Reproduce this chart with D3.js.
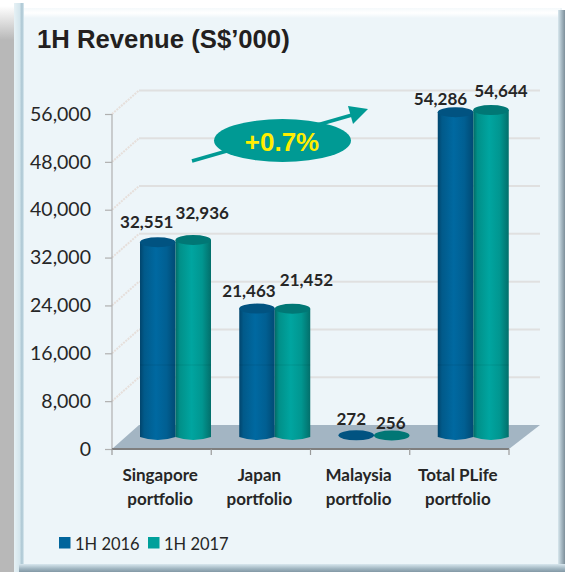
<!DOCTYPE html>
<html><head><meta charset="utf-8">
<script src="https://cdnjs.cloudflare.com/ajax/libs/d3/7.8.5/d3.min.js"></script>
<style>html,body{margin:0;padding:0;background:#fff}svg{display:block}text{font-family:Lato,sans-serif}</style>
</head><body><svg id="c" width="565" height="572"></svg>
<script>
const categories=[["Singapore","portfolio"],["Japan","portfolio"],["Malaysia","portfolio"],["Total PLife","portfolio"]];
const seriesNames=["1H 2016","1H 2017"];
const values2016=[32551,21463,272,54286];
const values2017=[32936,21452,256,54644];
const yTicks=[0,8000,16000,24000,32000,40000,48000,56000];
const growthLabel="+0.7%";
const titleText="1H Revenue (S$\u2019000)";

const svg=d3.select("#c");
const defs=svg.append("defs");
function grad(id,stops,vertical){const g=defs.append("linearGradient").attr("id",id);
 if(vertical)g.attr("x1",0).attr("y1",0).attr("x2",0).attr("y2",1);
 stops.forEach(s=>g.append("stop").attr("offset",s[0]).attr("stop-color",s[1]));}
grad("gBlue",[[0,"#01456d"],[.12,"#015a8a"],[.45,"#0069a1"],[.75,"#015f92"],[1,"#014a74"]]);
grad("gTeal",[[0,"#036a66"],[.12,"#019089"],[.45,"#00a5a0"],[.75,"#019690"],[1,"#036f6b"]]);
grad("gLeft",[[0,"#e6f1f5"],[.55,"#d5e6ed"],[.8,"#a9c4d1"],[1,"#dcebf1"]]);
grad("gRight",[[0,"#d8e7ee"],[.5,"#a8bac4"],[1,"#7d8f9a"]]);
grad("gBottom",[[0,"#d8e7ee"],[.6,"#9fb4c0"],[1,"#8298a5"]],true);
grad("gTop",[[0,"#f4f9fb"],[.5,"#ffffff"],[1,"#edf5f9"]],true);
grad("gShade",[[0,"#ffffff"],[1,"#b8b8b8"]],true);
const fills=["url(#gBlue)","url(#gTeal)"];
const tops=["#015381","#017775"];
const solid=["#01659c","#00a09b"];

// frame
svg.append("rect").attr("x",0).attr("y",6).attr("width",14).attr("height",34).attr("fill","url(#gShade)");
svg.append("rect").attr("x",0).attr("y",40).attr("width",14).attr("height",532).attr("fill","#b8b8b8");
svg.append("rect").attr("x",14).attr("y",3).attr("width",10).attr("height",569).attr("fill","url(#gLeft)");
svg.append("rect").attr("x",24).attr("y",8).attr("width",538).attr("height",560).attr("fill","#edf5f9");
svg.append("rect").attr("x",24).attr("y",8).attr("width",536).attr("height",10).attr("fill","url(#gTop)");
svg.append("rect").attr("x",558).attr("y",10).attr("width",7).attr("height",558).attr("fill","url(#gRight)");
svg.append("rect").attr("x",19).attr("y",564).attr("width",546).attr("height",8).attr("fill","url(#gBottom)");

// scales
const depthX=27;
const xBand=d3.scaleBand().domain(d3.range(categories.length)).range([112,509]);
const yFront=d3.scaleLinear().domain([0,56000]).range([449,114]);
const yBack=d3.scaleLinear().domain([0,56000]).range([425,90.5]);
const yBar=d3.scaleLinear().domain([0,56000]).range([437,102]);
const barW=35.5;
const barInset=28;
const backRight=540;

// floor
svg.append("polygon").attr("fill","#a3b5c3")
 .attr("points",[[xBand.range()[0],yFront(0)],[xBand.range()[0]+depthX,yBack(0)],[backRight,yBack(0)],[xBand.range()[1],yFront(0)]].join(" "));

// grid
const gridTicks=yTicks.slice(1);
svg.append("g").selectAll("line").data(gridTicks).join("line")
 .attr("x1",112+depthX).attr("x2",backRight).attr("y1",d=>yBack(d)).attr("y2",d=>yBack(d))
 .attr("stroke","#e0e0e0").attr("stroke-width",2);
svg.append("g").selectAll("line").data(gridTicks).join("line")
 .attr("x1",112).attr("x2",112+depthX).attr("y1",d=>yFront(d)).attr("y2",d=>yBack(d))
 .attr("stroke","#e6dfdb").attr("stroke-width",2).attr("stroke-dasharray","2 1");

// y axis
const gy=svg.append("g").attr("transform","translate(112,0)").call(d3.axisLeft(yFront).tickValues(yTicks).tickFormat(d3.format(",")).tickSize(7).tickPadding(14));
gy.selectAll(".domain").attr("stroke","#b0b0b0").attr("stroke-width",1.2).attr("d",`M0,${yFront(56000)}V${yFront(0)}`);
gy.selectAll("line").attr("stroke","#b0b0b0").attr("stroke-width",1.2);
gy.selectAll("text").attr("fill","#262626").style("font-size","19.5px").style("font-family","Lato,sans-serif");

// x axis
const xEdges=d3.range(categories.length+1).map(i=>i<categories.length?xBand(i):xBand.range()[1]);
svg.append("line").attr("x1",112).attr("x2",xBand.range()[1]).attr("y1",yFront(0)).attr("y2",yFront(0)).attr("stroke","#7f7f7f").attr("stroke-width",2);
svg.append("g").selectAll("line").data(xEdges).join("line")
 .attr("x1",d=>d).attr("x2",d=>d).attr("y1",yFront(0)).attr("y2",yFront(0)+6).attr("stroke","#9a9a9a").attr("stroke-width",1.2);

// category labels
const catG=svg.append("g").selectAll("text").data(categories).join("text")
 .attr("text-anchor","middle").attr("fill","#262626").style("font-size","17px").style("font-weight","700");
catG.each(function(d,i){const t=d3.select(this);const cx=xBand(i)+xBand.bandwidth()/2-1.5;
 d.forEach((s,j)=>t.append("tspan").attr("x",cx).attr("y",481+j*24).text(s));});

// cylinders
const ry=5;
const seamY=365;
function cyl(g,x,v,s){
 const yt=yBar(v),yb=yBar(0)+3,w=barW,rx=w/2;
 if(yb-yt>8){
  g.append("path").attr("fill",fills[s])
   .attr("d",`M${x},${yt}V${yb-3}Q${x+rx},${yb+3} ${x+w},${yb-3}V${yt}Z`);
  g.append("line").attr("x1",x).attr("x2",x+w).attr("y1",seamY).attr("y2",seamY).attr("stroke","#000").attr("stroke-opacity",.08);
 }
 g.append("ellipse").attr("cx",x+rx).attr("cy",yt).attr("rx",rx).attr("ry",ry).attr("fill",tops[s]);
}
const seriesValues=[values2016,values2017];
const barsG=svg.append("g");
categories.forEach((c,i)=>{
 seriesValues.forEach((vals,s)=>cyl(barsG,xBand(i)+barInset+s*barW,vals[i],s));
});

// value labels
const labelNudge=[[[-11,-14],[9,-21]],[[-8,-12],[14,-23]],[[-5,-10],[-1,-6]],[[-15,-7],[10,-13]]];
const labG=svg.append("g").style("font-size","17px").style("font-weight","700").attr("fill","#262626").attr("text-anchor","middle");
categories.forEach((c,i)=>seriesValues.forEach((vals,s)=>{
 const n=labelNudge[i][s];
 labG.append("text").attr("x",xBand(i)+barInset+s*barW+barW/2+n[0]).attr("y",yBar(vals[i])+n[1]).text(d3.format(",")(vals[i]));
}));

// growth annotation
const teal="#009a94";
svg.append("line").attr("x1",192).attr("y1",161).attr("x2",352).attr("y2",115).attr("stroke",teal).attr("stroke-width",3.5);
svg.append("polygon").attr("fill",teal).attr("points","348,106 368,109 353,124");
svg.append("ellipse").attr("cx",282.5).attr("cy",140.5).attr("rx",68.5).attr("ry",21.5).attr("fill",teal);
svg.append("text").attr("x",282).attr("y",150.5).attr("text-anchor","middle").attr("fill","#ffee00")
 .style("font-family","'Liberation Sans',Arial,sans-serif").style("font-size","26px").style("font-weight","700").text(growthLabel);

// title
svg.append("text").attr("x",37).attr("y",48).attr("fill","#231f20")
 .style("font-family","'Liberation Sans',Arial,sans-serif").style("font-size","25.7px").style("font-weight","700").text(titleText);

// legend
const legendX=[59,148];
const leg=svg.append("g").selectAll("g").data(seriesNames).join("g").attr("transform",(d,i)=>`translate(${legendX[i]},537)`);
leg.append("rect").attr("width",11.5).attr("height",11.5).attr("fill",(d,i)=>solid[i]);
leg.append("text").attr("x",16).attr("y",13).attr("fill","#262626").style("font-size","16.5px").text(d=>d);
</script></body></html>
